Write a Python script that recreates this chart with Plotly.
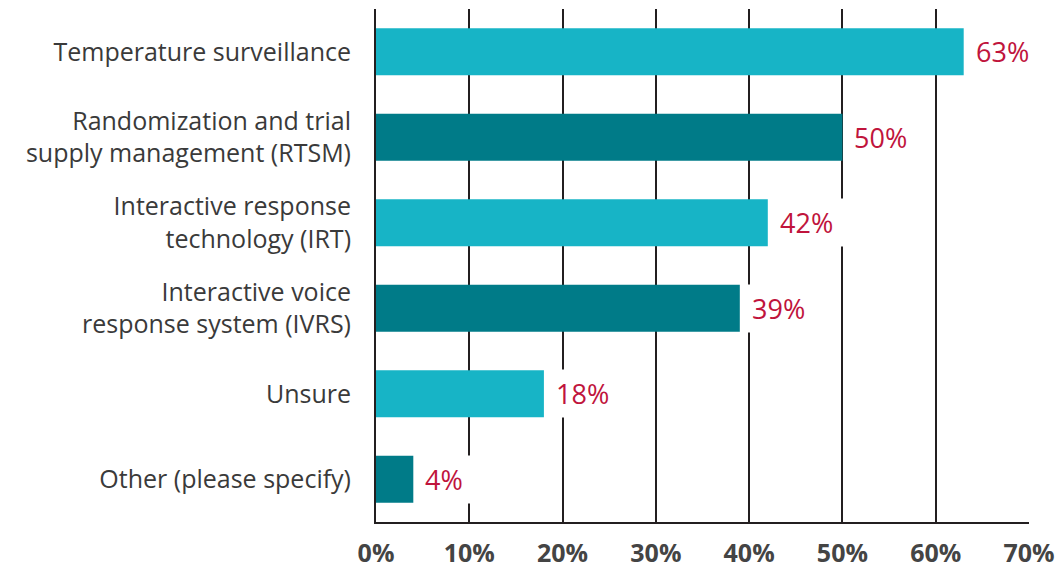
import plotly.graph_objects as go

# Survey answers, top to bottom
categories = [
    "Temperature surveillance",
    "Randomization and trial<br>supply management (RTSM)",
    "Interactive response<br>technology (IRT)",
    "Interactive voice<br>response system (IVRS)",
    "Unsure",
    "Other (please specify)",
]
shares = [63, 50, 42, 39, 18, 4]
bar_colors = ["#17b4c6", "#007b88", "#17b4c6", "#007b88", "#17b4c6", "#007b88"]
tick_values = [0, 10, 20, 30, 40, 50, 60, 70]
tick_labels = ["0%", "10%", "20%", "30%", "40%", "50%", "60%", "70%"]

FONT = "Open Sans"
fig = go.Figure()
fig.add_trace(go.Bar(
    y=categories,
    x=shares,
    orientation="h",
    marker=dict(color=bar_colors, line=dict(width=0)),
    width=0.55,
    hoverinfo="skip",
))

# Value labels on a white box that masks the gridlines behind them
for cat, v in zip(categories, shares):
    fig.add_annotation(
        x=v, y=cat, xref="x", yref="y",
        text=f"{v}%", showarrow=False,
        xanchor="left", yanchor="middle",
        font=dict(family=FONT, size=27, color="#c0143c"),
        bgcolor="white", height=27, borderpad=10,
        xshift=1,
    )

fig.update_layout(
    width=1062, height=569,
    margin=dict(l=376, r=33, t=9, b=47),
    paper_bgcolor="white", plot_bgcolor="white",
    showlegend=False,
    bargap=0.45,
)
fig.update_xaxes(
    range=[0, 70],
    tickvals=tick_values, ticktext=tick_labels,
    showgrid=True, gridcolor="#231f20", gridwidth=2,
    showline=True, linecolor="#231f20", linewidth=2,
    zeroline=False, automargin=False,
    tickfont=dict(family=FONT, size=25, color="#444444", weight="bold"),
    ticks="", ticklabelstandoff=8,
)
fig.update_yaxes(
    autorange="reversed",
    showgrid=False, zeroline=False, automargin=False,
    showline=True, linecolor="#231f20", linewidth=2,
    tickfont=dict(family=FONT, size=25, color="#3a3a3a"),
    ticks="", ticklabelstandoff=18,
)

fig.write_html("out.html")
